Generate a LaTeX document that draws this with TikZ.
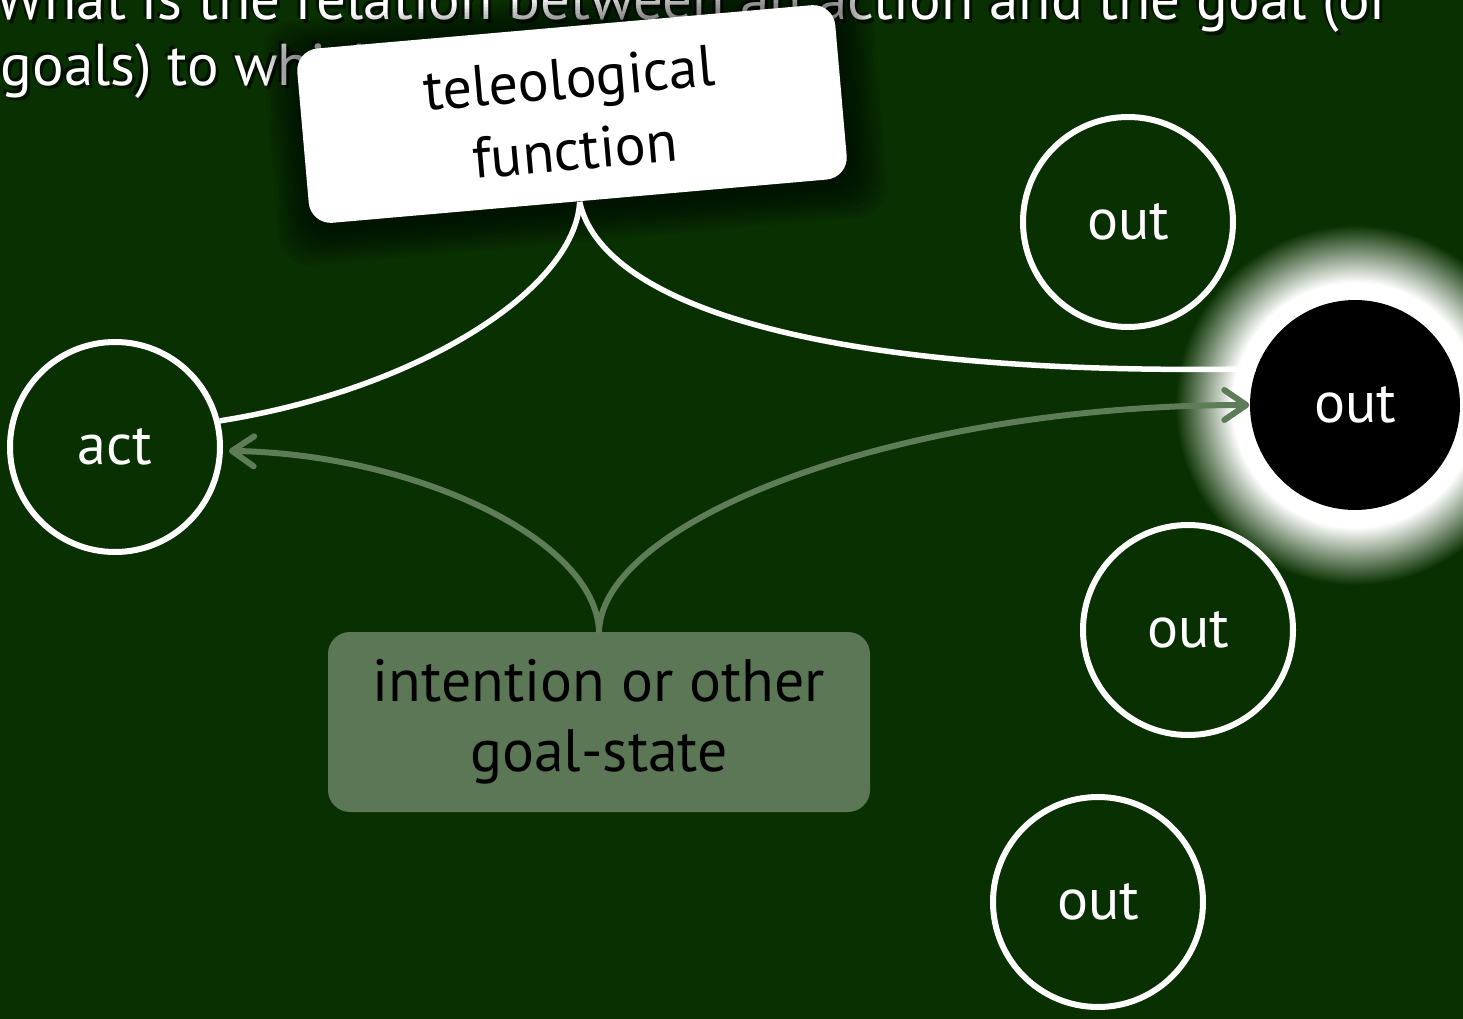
\documentclass[tikz,border=0pt]{standalone}
\usepackage{fontspec}
\setmainfont{PT Sans}
\usetikzlibrary{arrows.meta}
\definecolor{bggreen}{RGB}{9,48,0}
\definecolor{goalgreen}{RGB}{91,119,85}
\definecolor{arrowgreen}{RGB}{93,124,87}
\pgfdeclareradialshading{halo}{\pgfpointorigin}{color(0bp)=(white); color(17bp)=(white); color(25bp)=(bggreen); color(50bp)=(bggreen)}
\tikzset{
    circnode/.style={
           circle,
           draw=white, line width=0.06cm,
           minimum size=2.1cm,
           text=white,
           font=\fontsize{16.5}{20}\selectfont,
           },
    circnode2/.style={
           circle,
           fill=black,
           minimum size=2.1cm,
           text=white,
           font=\fontsize{16.5}{20}\selectfont,
           },
    card/.style={
           rectangle,
           rounded corners=0.22cm,
           fill=white,
           minimum width=5.4cm,
           minimum height=1.75cm,
           align=center,
           text=black,
           font=\fontsize{16.5}{20.5}\selectfont,
           },
    card2/.style={
           rectangle,
           rounded corners=0.22cm,
           fill=goalgreen,
           minimum width=5.42cm,
           minimum height=1.8cm,
           align=center,
           text=black,
           font=\fontsize{17}{20}\selectfont,
           },
    frameless/.style={
           anchor=base west,
           inner sep=0pt,
           text=white,
           font=\fontsize{16.8}{20}\selectfont,
           },
    link/.style={white, line width=0.055cm},
    link2/.style={arrowgreen, line width=0.06cm, line cap=round,
           -{Straight Barb[length=0.22cm,width=0.3cm,round]}},
}

\begin{document}
\begin{tikzpicture}
	\fill[bggreen] (0,0) rectangle (14.63,-10.19);
	\useasboundingbox (0,0) rectangle (14.63,-10.19);

	%question
	\node[frameless, text=black, opacity=0.6] (q1s) at (-0.02,-0.23) {What is the relation between an action and the goal (or};
	\node[frameless, text=black, opacity=0.6] (q1t) at (-0.08,-0.17) {What is the relation between an action and the goal (or};
	\node[frameless] (q1) at (-0.05,-0.20) {What is the relation between an action and the goal (or};
	\node[frameless, text=black, opacity=0.6] (q2s) at (0.03,-0.88) {goals) to which it is directed?};
	\node[frameless, text=black, opacity=0.6] (q2t) at (-0.03,-0.82) {goals) to which it is directed?};
	\node[frameless] (q2) at (0,-0.85) {goals) to which it is directed?};

	%card with soft shadow
	\foreach \i in {1,...,10}
		\node[card, fill=black, opacity=0.07, rotate=5, rounded corners=0.3cm,
			minimum width=5.4cm+\i*0.07cm, minimum height=1.75cm+\i*0.07cm] (tfs\i) at (5.75,-1.19) {};
	\node[card, rotate=5] (tf) at (5.72,-1.14) {teleological\\function};

	\node[card2] (goal) at (5.99,-7.22) {intention or other\\goal-state};

	%circles
	\node[circnode] (act) at (1.15,-4.47) {act};
	\node[circle, minimum size=3.6cm, shading=halo] (glow) at (13.55,-4.05) {};
	\node[circnode2] (o2) at (13.55,-4.05) {out};
	\node[circnode] (o1) at (11.28,-2.22) {out};
	\node[circnode] (o3) at (11.88,-6.30) {out};
	\node[circnode] (o4) at (10.98,-9.02) {out};

	%EDGES
	\path[link]	(tf.south) edge[out=-93, in=9, out distance=0.88cm, in distance=2cm] (act.14)
			(tf.south) edge[out=-78, in=181, out distance=1cm, in distance=4.52cm] (o2.160);
	\path[link2]	(goal.north) edge[out=92, in=-1, out distance=0.92cm, in distance=1.92cm, shorten >=0.06cm] (act.-2)
			(goal.north) edge[out=88, in=180, out distance=1.12cm, in distance=3.5cm] (o2.west);
\end{tikzpicture}
\end{document}
